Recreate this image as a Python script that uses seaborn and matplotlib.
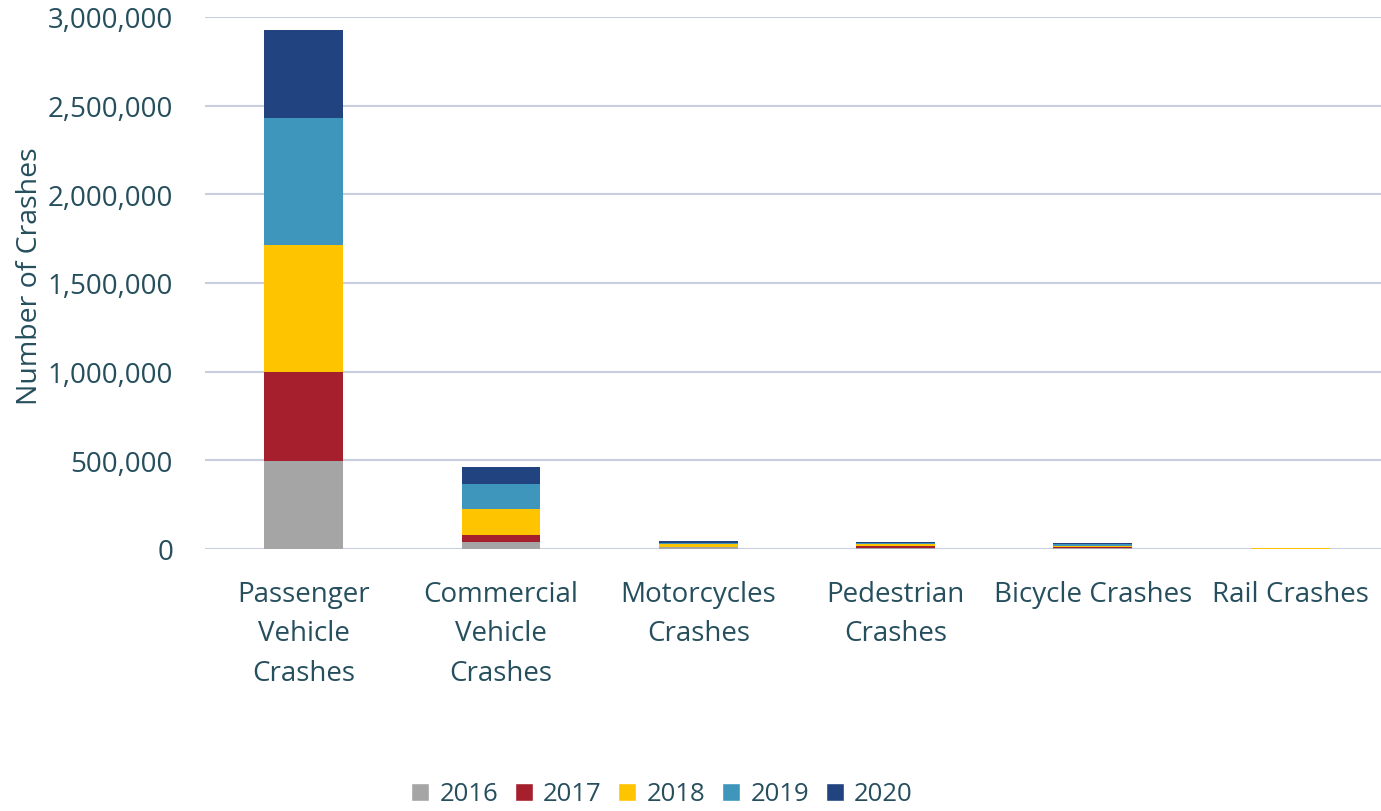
import numpy as np
import pandas as pd
import matplotlib
matplotlib.use("Agg")
import matplotlib.pyplot as plt
import seaborn as sns
from matplotlib.ticker import FuncFormatter
from matplotlib.patches import Patch

categories = ["Passenger\nVehicle\nCrashes", "Commercial\nVehicle\nCrashes", "Motorcycles\nCrashes",
              "Pedestrian\nCrashes", "Bicycle Crashes", "Rail Crashes"]
years = ["2016", "2017", "2018", "2019", "2020"]
crashes_2016 = [496000, 40000, 9000, 8000, 6000, 1000]
crashes_2017 = [502000, 41000, 5000, 9000, 6000, 1000]
crashes_2018 = [716000, 143000, 12000, 9000, 7000, 1000]
crashes_2019 = [716000, 143000, 8000, 8000, 7000, 1000]
crashes_2020 = [497000, 97000, 11000, 8000, 6000, 1000]
colors = ["#a5a5a5", "#a51f2d", "#ffc400", "#3f96bc", "#21437f"]
text_color = "#264f5e"

sns.set_theme(style="white")
plt.rcParams['font.family'] = ['Open Sans', 'DejaVu Sans']

df = pd.DataFrame({"category": categories, "2016": crashes_2016, "2017": crashes_2017,
                   "2018": crashes_2018, "2019": crashes_2019, "2020": crashes_2020})
cum = df[years].cumsum(axis=1)

fig = plt.figure(figsize=(13.81, 8.12), dpi=100)
ax = fig.add_axes([205 / 1381, 1 - 550 / 812, 1 - 205 / 1381, 532 / 812])

# draw cumulative totals from the top series down so each layer shows through
for year, color in reversed(list(zip(years, colors))):
    sns.barplot(x=df["category"], y=cum[year], color=color, width=0.4, ax=ax,
                saturation=1, linewidth=0, zorder=3)

ax.set_ylim(0, 3000000)
ax.set_xlim(-0.5, 5.46)
ax.set_yticks(np.arange(0, 3000001, 500000))
ax.yaxis.set_major_formatter(FuncFormatter(lambda v, p: f"{int(v):,}"))
ax.grid(axis="y", color="#c6cee0", linewidth=1.5, zorder=0)
ax.grid(axis="x", visible=False)
for s in ax.spines.values():
    s.set_visible(False)
ax.tick_params(axis="y", length=0, pad=23, labelsize=20, labelcolor=text_color)
ax.tick_params(axis="x", length=0, pad=22, labelsize=20, labelcolor=text_color)
for lbl in ax.get_xticklabels():
    lbl.set_linespacing(1.56)
ax.set_xlabel("")
ax.set_ylabel("Number of Crashes", fontsize=20.5, color=text_color, labelpad=3)
ax.yaxis.label.set_y(0.515)

handles = [Patch(facecolor=c, label=y) for y, c in zip(years, colors)]
fig.legend(handles=handles, loc="center", bbox_to_anchor=(662 / 1381, 1 - 795 / 812), ncol=5,
           frameon=False, fontsize=18.5, labelcolor=text_color, handlelength=0.7, handleheight=0.7,
           handletextpad=0.4, columnspacing=0.65)

fig.savefig("out.png", dpi=100)
